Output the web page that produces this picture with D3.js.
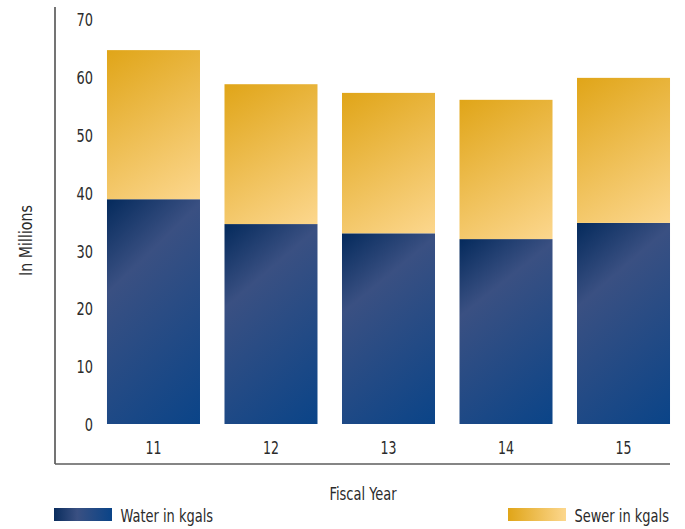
<!DOCTYPE html>
<html>
<head>
<meta charset="utf-8">
<script src="https://cdn.jsdelivr.net/npm/d3@7"></script>
<style>
  html, body { margin: 0; padding: 0; background: #fff; }
  svg text { font-family: "DejaVu Sans Condensed", "Liberation Sans Narrow", sans-serif; fill: #2b2b2b; }
</style>
</head>
<body>
<svg id="chart" width="685" height="529"></svg>
<script>
// Fiscal-year usage, stacked (millions of kgals)
const years = ["11", "12", "13", "14", "15"];
const water = [38.9, 34.6, 33.0, 32.0, 34.8];
const sewer = [25.8, 24.2, 24.3, 24.1, 25.1];
const yTicks = [0, 10, 20, 30, 40, 50, 60, 70];
const seriesNames = ["Water in kgals", "Sewer in kgals"];

const svg = d3.select("#chart");
const defs = svg.append("defs");

function gradient(id, stops, x2, y2) {
  const g = defs.append("linearGradient").attr("id", id)
    .attr("x1", "0").attr("y1", "0").attr("x2", x2).attr("y2", y2);
  stops.forEach(([o, c]) => g.append("stop").attr("offset", o).attr("stop-color", c));
}
const waterStops = [[0, "#042a5c"], [0.3, "#3a5082"], [1, "#0a4488"]];
const sewerStops = [[0, "#e0a518"], [1, "#fcd78e"]];
const keyWater = [[0, "#0a2d5e"], [0.4, "#3a5082"], [1, "#0a4488"]];
// diagonal ramp, steeper than the box diagonal so the bands lie flatter
gradient("waterBar", waterStops, "0.483", "1.207");
gradient("sewerBar", sewerStops, "0.483", "1.207");
gradient("waterKey", keyWater, "1", "0");
gradient("sewerKey", sewerStops, "1", "0");

const x = d3.scaleBand().domain(years).range([95, 682])
  .paddingInner(0.2085).paddingOuter(0.102);
const y = d3.scaleLinear().domain([0, 70]).range([424, 19.5]);

const rows = years.map((yr, i) => ({ year: yr, water: water[i], sewer: sewer[i] }));
const stacked = d3.stack().keys(["water", "sewer"])(rows);
const fills = { water: "url(#waterBar)", sewer: "url(#sewerBar)" };

svg.append("g").selectAll("g").data(stacked).join("g")
  .attr("fill", d => fills[d.key])
  .selectAll("rect").data(d => d).join("rect")
  .attr("x", d => x(d.data.year))
  .attr("width", x.bandwidth())
  .attr("y", d => y(d[1]))
  .attr("height", d => y(d[0]) - y(d[1]));

// Axis frame
const frame = "#5c5c5c";
svg.append("line").attr("x1", 55).attr("x2", 55).attr("y1", 7).attr("y2", 464)
  .attr("stroke", frame).attr("stroke-width", 1.7);
svg.append("line").attr("x1", 55).attr("x2", 670).attr("y1", 464).attr("y2", 464)
  .attr("stroke", frame).attr("stroke-width", 1.7);

// Y tick labels
const yAxis = svg.append("g").attr("transform", "translate(93,0)")
  .call(d3.axisLeft(y).tickValues(yTicks).tickSize(0).tickPadding(0));
yAxis.select(".domain").remove();
yAxis.selectAll("text").attr("font-size", 18).attr("fill", "#2b2b2b")
  .attr("dy", "0.36em").attr("transform", "scale(0.8,1)");

// X tick labels
const xAxis = svg.append("g").attr("transform", "translate(0,454)")
  .call(d3.axisBottom(x).tickSize(0).tickPadding(0));
xAxis.select(".domain").remove();
xAxis.selectAll("text").attr("font-size", 17).attr("fill", "#2b2b2b")
  .attr("y", 0).attr("dy", 0).attr("transform", "scale(0.82,1)");

// Axis titles
svg.append("text").attr("transform", "translate(363,500) scale(0.85,1)")
  .attr("text-anchor", "middle").attr("font-size", 17).text("Fiscal Year");
svg.append("text").attr("transform", "translate(32,240.5) rotate(-90) scale(0.93,1)")
  .attr("text-anchor", "middle").attr("font-size", 17).text("In Millions");

// Legend
const legend = [
  { name: seriesNames[0], fill: "url(#waterKey)", x: 54 },
  { name: seriesNames[1], fill: "url(#sewerKey)", x: 508 }
];
const lg = svg.append("g").selectAll("g").data(legend).join("g")
  .attr("transform", d => `translate(${d.x},508)`);
lg.append("rect").attr("width", 58).attr("height", 13).attr("fill", d => d.fill);
lg.append("text").attr("transform", "translate(66.5,14) scale(0.85,1)")
  .attr("font-size", 17).text(d => d.name);
</script>
</body>
</html>
